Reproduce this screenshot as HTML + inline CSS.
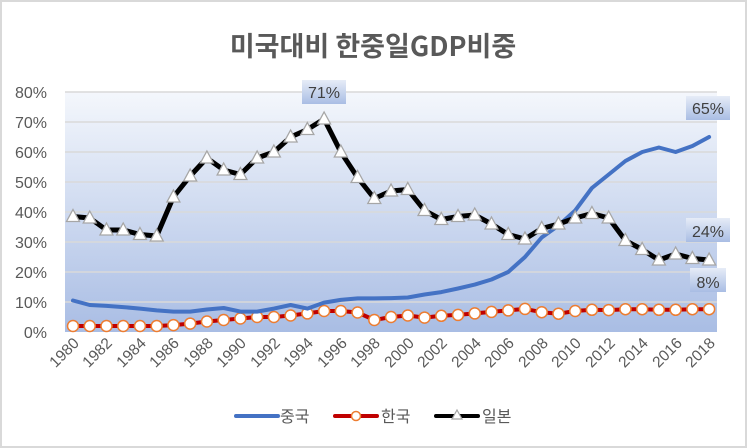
<!DOCTYPE html>
<html><head><meta charset="utf-8"><style>
body{margin:0;background:#fff}
svg{display:block;font-family:"Liberation Sans","Noto Sans CJK KR",sans-serif}
</style></head><body>
<svg id="s" width="747" height="448" viewBox="0 0 747 448">
<defs>
<linearGradient id="g" x1="0" y1="0" x2="0" y2="1">
<stop offset="0" stop-color="#f4f7fc"/><stop offset="1" stop-color="#a9bde4"/></linearGradient>
<linearGradient id="lb" x1="0" y1="0" x2="0" y2="1">
<stop offset="0" stop-color="#e6ecf7"/><stop offset="1" stop-color="#a9bde4"/></linearGradient>
</defs>
<rect x="1" y="1" width="745" height="446" fill="#fff" stroke="#d9d9d9" stroke-width="2"/>
<text x="373" y="56" text-anchor="middle" font-size="27" font-weight="bold" fill="#595959" font-family="'Noto Sans CJK KR',sans-serif">미국대비 한중일GDP비중</text>
<rect x="65" y="92" width="652" height="240" fill="url(#g)"/>
<g id="grid" stroke="#d9d9d9" stroke-width="1.5"></g>
<g font-size="16" fill="#595959" text-anchor="end">
<text x="47" y="98">80%</text><text x="47" y="128">70%</text><text x="47" y="158">60%</text><text x="47" y="188">50%</text><text x="47" y="218">40%</text><text x="47" y="248">30%</text><text x="47" y="278">20%</text><text x="47" y="308">10%</text><text x="47" y="338">0%</text>
</g>
<g font-size="15.5" fill="#595959" text-anchor="end">
<text transform="translate(80,344) rotate(-45)">1980</text>
<text transform="translate(113,344) rotate(-45)">1982</text>
<text transform="translate(147,344) rotate(-45)">1984</text>
<text transform="translate(180,344) rotate(-45)">1986</text>
<text transform="translate(214,344) rotate(-45)">1988</text>
<text transform="translate(247,344) rotate(-45)">1990</text>
<text transform="translate(281,344) rotate(-45)">1992</text>
<text transform="translate(314,344) rotate(-45)">1994</text>
<text transform="translate(348,344) rotate(-45)">1996</text>
<text transform="translate(381,344) rotate(-45)">1998</text>
<text transform="translate(415,344) rotate(-45)">2000</text>
<text transform="translate(448,344) rotate(-45)">2002</text>
<text transform="translate(482,344) rotate(-45)">2004</text>
<text transform="translate(515,344) rotate(-45)">2006</text>
<text transform="translate(549,344) rotate(-45)">2008</text>
<text transform="translate(582,344) rotate(-45)">2010</text>
<text transform="translate(616,344) rotate(-45)">2012</text>
<text transform="translate(649,344) rotate(-45)">2014</text>
<text transform="translate(683,344) rotate(-45)">2016</text>
<text transform="translate(716,344) rotate(-45)">2018</text>
</g>
<g id="series"></g>
<g font-size="16" fill="#404040" text-anchor="middle">
<rect x="302" y="80" width="44" height="24" fill="url(#lb)"/><text x="324" y="98">71%</text>
<rect x="686" y="96" width="44" height="24" fill="url(#lb)"/><text x="708" y="114">65%</text>
<rect x="686" y="218" width="44" height="24" fill="url(#lb)"/><text x="708" y="237">24%</text>
<rect x="690" y="268" width="36" height="24" fill="url(#lb)"/><text x="708" y="288">8%</text>
</g>
<g font-size="16" fill="#595959" font-family="'Noto Sans CJK KR',sans-serif">
<line x1="236" y1="416" x2="278" y2="416" stroke="#4472c4" stroke-width="4" stroke-linecap="round"/>
<text x="280" y="422">중국</text>
<line x1="335" y1="416" x2="377" y2="416" stroke="#c00000" stroke-width="4" stroke-linecap="round"/>
<circle cx="356" cy="416" r="4.5" fill="#fff" stroke="#ed7d31" stroke-width="1.5"/>
<text x="381" y="422">한국</text>
<line x1="436" y1="416" x2="478" y2="416" stroke="#000" stroke-width="4" stroke-linecap="round"/>
<path d="M457,410 L462,419 L452,419 Z" fill="#fff" stroke="#a6a6a6" stroke-width="1.2"/>
<text x="482" y="422">일본</text>
</g>
</svg>
<script>
var NS="http://www.w3.org/2000/svg";
function el(p,t,a){var e=document.createElementNS(NS,t);for(var k in a)e.setAttribute(k,a[k]);p.appendChild(e);return e;}
var grid=document.getElementById("grid");
for(var v=10;v<=80;v+=10){el(grid,"line",{x1:65,x2:717,y1:332-3*v,y2:332-3*v});}
var X=function(i){return 73+16.74*i},Y=function(v){return 332-3*v};
var ch=[10.5,9,8.7,8.3,7.8,7.2,6.8,6.8,7.5,8,6.8,6.8,7.8,9,7.8,9.8,10.7,11.2,11.2,11.3,11.5,12.5,13.3,14.5,15.8,17.5,20,25,31.5,35.5,40.5,48,52.5,57,60,61.5,60,62,65];
var ko=[2,2,2,2,2,2,2.3,2.8,3.5,4,4.5,5,5,5.5,6.2,7,7,6.5,4,5,5.5,4.8,5.4,5.7,6.2,6.7,7.2,7.7,6.6,6.1,7,7.4,7.3,7.6,7.6,7.4,7.4,7.6,7.6];
var jp=[38.5,38,34,34,32.5,32,45,52,58,54,52.5,58,60,65,67.5,71,60,51.5,44.5,47,47.5,40.5,37.5,38.5,39,36,32.5,31,34.5,36,38,39.5,38,30.5,27.5,24,26,24.5,24];
var s=document.getElementById("series");
function pts(a){return a.map(function(v,i){return X(i).toFixed(1)+","+Y(v).toFixed(1)}).join(" ");}
el(s,"polyline",{points:pts(ko),fill:"none",stroke:"#c00000","stroke-width":4,"stroke-linejoin":"round"});
ko.forEach(function(v,i){el(s,"circle",{cx:X(i),cy:Y(v),r:5.5,fill:"#fff",stroke:"#ed7d31","stroke-width":1.5});});
el(s,"polyline",{points:pts(ch),fill:"none",stroke:"#4472c4","stroke-width":4,"stroke-linejoin":"round","stroke-linecap":"round"});
el(s,"polyline",{points:pts(jp),fill:"none",stroke:"#000","stroke-width":5,"stroke-linejoin":"round"});
jp.forEach(function(v,i){var x=X(i),y=Y(v);el(s,"path",{d:"M"+x+","+(y-7)+" L"+(x+6.5)+","+(y+5)+" L"+(x-6.5)+","+(y+5)+" Z",fill:"#fff",stroke:"#a6a6a6","stroke-width":1.3});});
</script>
</body></html>
